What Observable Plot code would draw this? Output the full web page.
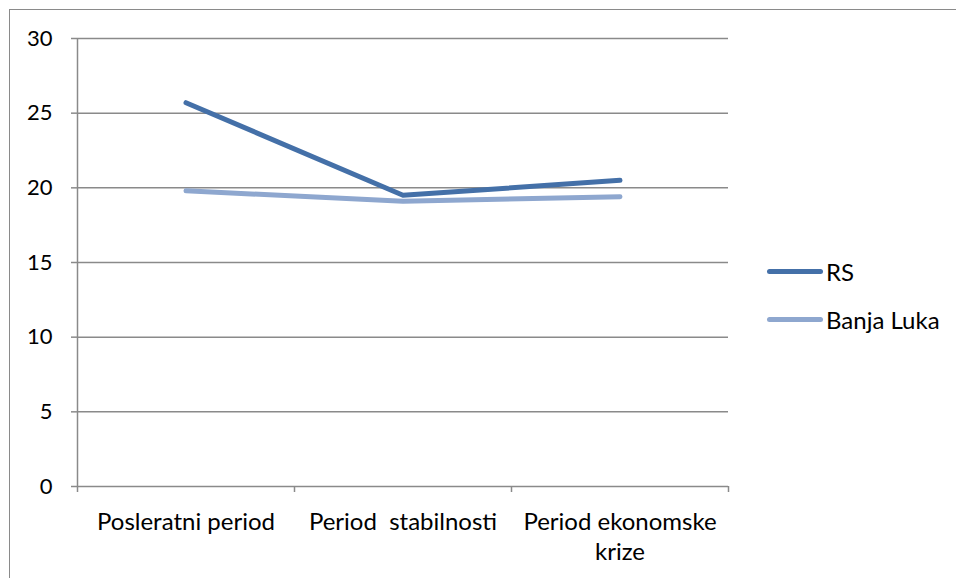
<!DOCTYPE html>
<html>
<head>
<meta charset="utf-8">
<script src="https://cdn.jsdelivr.net/npm/d3@7"></script>
<script src="https://cdn.jsdelivr.net/npm/@observablehq/plot@0.6"></script>
<style>
  html, body { margin: 0; padding: 0; background: #fff; }
  #wrap { position: relative; width: 956px; height: 578px; overflow: hidden; }
  #frame { position: absolute; left: 9px; top: 9px; width: 1000px; height: 1000px; border-left: 1.5px solid #8a8a8a; border-top: 1.5px solid #8a8a8a; box-sizing: border-box; }
  #chart { position: absolute; left: 0; top: 0; }
  #legend { position: absolute; left: 767px; top: 257px; font-family: Lato, "Open Sans", sans-serif; font-size: 24px; color: #000; }
  .item { display: flex; align-items: center; height: 28px; margin-bottom: 20px; }
  .swatch { width: 56px; height: 5px; border-radius: 3px; margin-right: 3px; }
</style>
</head>
<body>
<div id="wrap">
  <div id="frame"></div>
  <div id="chart"></div>
  <div id="legend"></div>
</div>
<script>
const categories = ["Posleratni period", "Period  stabilnosti", "Period ekonomske krize"];
const seriesNames = ["RS", "Banja Luka"];
const rsValues = [25.7, 19.5, 20.5];
const banjaLukaValues = [19.8, 19.1, 19.4];
const seriesColors = ["#4470A8", "#8EA7CF"];
const yTicks = [0, 5, 10, 15, 20, 25, 30];

const data = [];
categories.forEach((c, i) => {
  data.push({category: c, series: seriesNames[0], value: rsValues[i]});
  data.push({category: c, series: seriesNames[1], value: banjaLukaValues[i]});
});

const labelLines = {
  "Posleratni period": ["Posleratni period"],
  "Period  stabilnosti": ["Period\u00a0\u00a0stabilnosti"],
  "Period ekonomske krize": ["Period ekonomske", "krize"]
};

const W = 956, ML = 77, MR = 228;
const halfBand = (W - ML - MR) / categories.length / 2;
const gray = "#8a8a8a";

const plot = Plot.plot({
  width: W,
  height: 578,
  marginLeft: ML,
  marginRight: MR,
  marginTop: 38,
  marginBottom: 92,
  style: {fontFamily: "Lato, 'Open Sans', sans-serif", fontSize: "22px", color: "#000", background: "transparent", overflow: "visible"},
  x: {type: "band", domain: categories, padding: 0, axis: null},
  y: {domain: [0, 30], axis: null},
  color: {domain: seriesNames, range: seriesColors},
  marks: [
    Plot.ruleY(yTicks, {y: d => d, stroke: gray, strokeWidth: 1.5}),
    Plot.axisY({ticks: yTicks, tickSize: 6, tickPadding: 19, stroke: gray, strokeWidth: 1.5, label: null, fontSize: 22, fill: "#000"}),
    Plot.ruleX([categories[0]], {x: d => d, dx: -halfBand, y1: 0, y2: 30, stroke: gray, strokeWidth: 1.5}),
    Plot.ruleX(categories, {x: d => d, dx: -halfBand, y1: 0, y2: 0, insetBottom: -6, stroke: gray, strokeWidth: 1.5}),
    Plot.ruleX([categories[categories.length - 1]], {x: d => d, dx: halfBand, y1: 0, y2: 0, insetBottom: -6, stroke: gray, strokeWidth: 1.5}),
    Plot.line(data, {x: "category", y: "value", z: "series", stroke: "series", strokeWidth: 5, strokeLinecap: "round", strokeLinejoin: "round"}),
    Plot.text(categories, {x: d => d, y: 0, text: d => labelLines[d].join("\n"), lineAnchor: "top", dy: 22, lineHeight: 1.25, fill: "#000", fontSize: 24})
  ]
});
document.getElementById("chart").appendChild(plot);

const legend = document.getElementById("legend");
seriesNames.forEach((s, i) => {
  const it = document.createElement("div");
  it.className = "item";
  it.innerHTML = `<div class="swatch" style="background:${seriesColors[i]}"></div><span>${s}</span>`;
  legend.appendChild(it);
});
</script>
</body>
</html>
